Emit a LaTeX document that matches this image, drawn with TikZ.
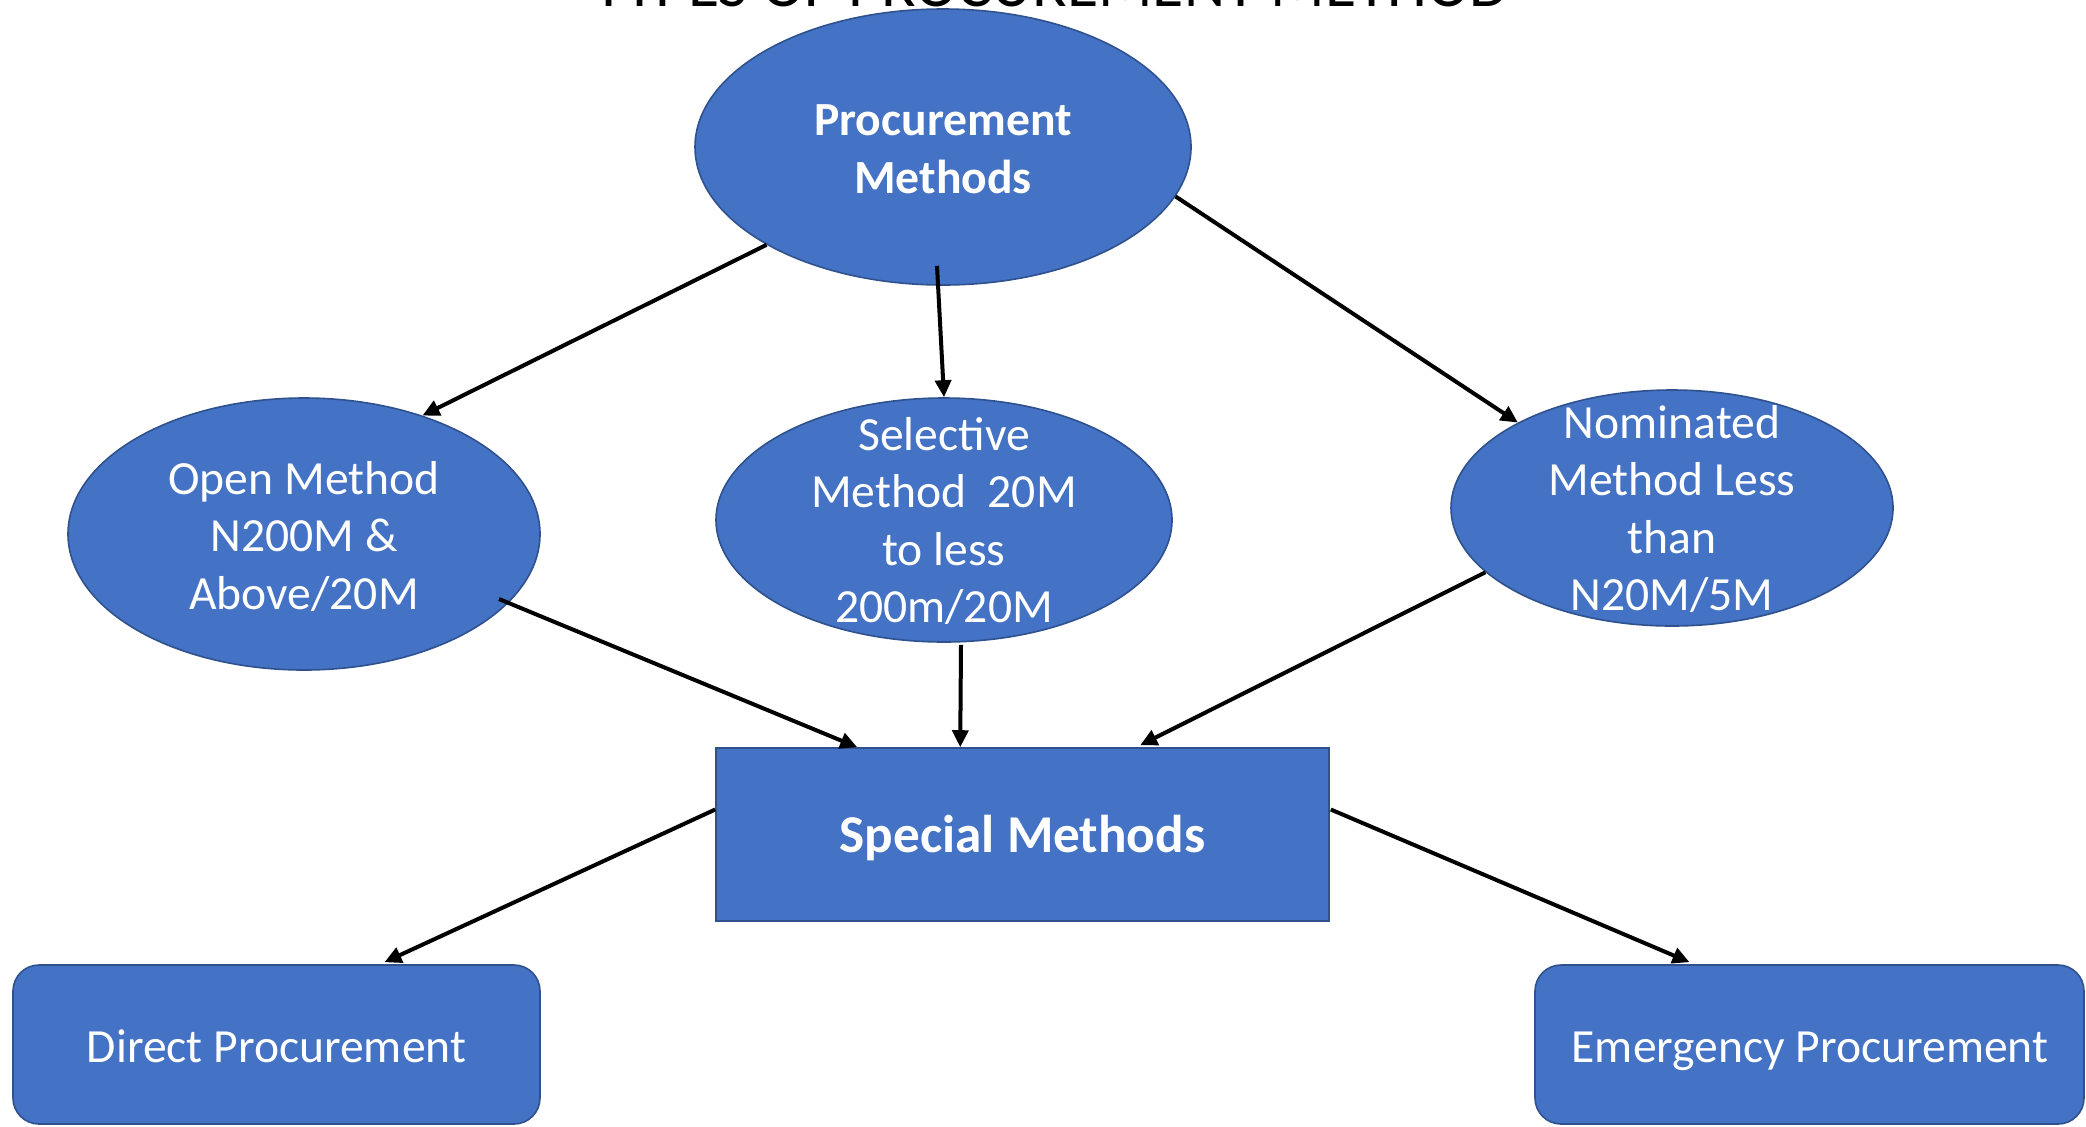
\documentclass[tikz,border=0pt]{standalone}
\usepackage{fontspec}
\setmainfont{Carlito}
\usetikzlibrary{shapes.geometric,arrows.meta,calc}
\definecolor{fillblue}{HTML}{4472C4}
\definecolor{edgeblue}{HTML}{2F528F}
\begin{document}
\begin{tikzpicture}[x=0.5pt,y=-0.5pt,
 ell/.style={ellipse, draw=edgeblue, fill=fillblue, line width=0.8pt, inner sep=0pt},
 box/.style={rectangle, draw=edgeblue, fill=fillblue, line width=0.8pt, inner sep=0pt},
 rbox/.style={box, rounded corners=13pt},
 txt/.style={text=white, align=center, inner sep=0pt, font=\fontsize{23.8}{28.75}\selectfont},
 btxt/.style={txt, font=\fontsize{23.8}{28.75}\selectfont\bfseries},
 conn/.style={-{Triangle[length=8.5pt,width=8pt]}, line width=2pt, black}]
\useasboundingbox (0,0) rectangle (2086,1126);
\clip (0,0) rectangle (2086,1126);

% title (cut off at the top edge, as in the original)
\node[anchor=base, inner sep=0pt, font=\fontsize{31.9}{38}\selectfont] (title) at (1051,6) {TYPES OF PROCUREMENT METHOD};

% ellipses
\node[ell, minimum width=248pt, minimum height=138pt] (proc) at (943,147) {};
\node[btxt] (proct) at ($(proc.center)+(0,2)$) {Procurement\\Methods};

\node[ell, minimum width=236pt, minimum height=136pt] (open) at (304,534) {};
\node[txt] (opent) at ($(open.center)+(0,2)$) {Open Method\\N200M \&\\Above/20M};

\node[ell, minimum width=228pt, minimum height=122pt] (sel) at (944,520) {};
\node[txt] (selt) at ($(sel.center)+(0,1)$) {Selective\\Method\ \ 20M\\to less\\200m/20M};

\node[ell, minimum width=221pt, minimum height=118pt] (nom) at (1672,508) {};
\node[txt] (nomt) at ($(nom.center)+(0,1)$) {Nominated\\Method Less\\than\\N20M/5M};

% boxes
\node[box, minimum width=306.5pt, minimum height=86.5pt] (spec) at (1022.5,834.5) {};
\node[txt, anchor=base, font=\fontsize{26.6}{32}\selectfont\bfseries] (spect) at (1022.5,852) {Special Methods};

\node[rbox, minimum width=263.5pt, minimum height=79.5pt] (direct) at (276.5,1044.5) {};
\node[txt, anchor=base] (directt) at (276.5,1062) {Direct Procurement};

\node[rbox, minimum width=274.5pt, minimum height=79.5pt] (emer) at (1809.5,1044.5) {};
\node[txt, anchor=base] (emert) at (1810,1062) {Emergency Procurement};

% connector end points
\coordinate (ps) at ($(proc.south)+(-6,-20)$);
\coordinate (os) at ($(open.center)+(195,65)$);
\coordinate (s1) at ($(spec.north west)+(142,0)$);
\coordinate (ss) at ($(sel.south)+(17,2)$);
\coordinate (s2) at ($(spec.north west)+(245,0)$);
\coordinate (s3) at ($(spec.north west)+(425,-2)$);
\coordinate (sw) at ($(spec.west)+(0,-25)$);
\coordinate (se) at ($(spec.east)+(1,-25)$);
\coordinate (dn) at ($(direct.north)+(108,-2)$);
\coordinate (en) at ($(emer.north)+(-120,-2)$);

% connectors
\draw[conn] (proc.209) -- (open.45);
\draw[conn] (ps) -- (sel.north);
\draw[conn] (proc.-12) -- (nom.151);
\draw[conn] (os) -- (s1);
\draw[conn] (ss) -- (s2);
\draw[conn] (nom.199) -- (s3);
\draw[conn] (sw) -- (dn);
\draw[conn] (se) -- (en);
\end{tikzpicture}
\end{document}
